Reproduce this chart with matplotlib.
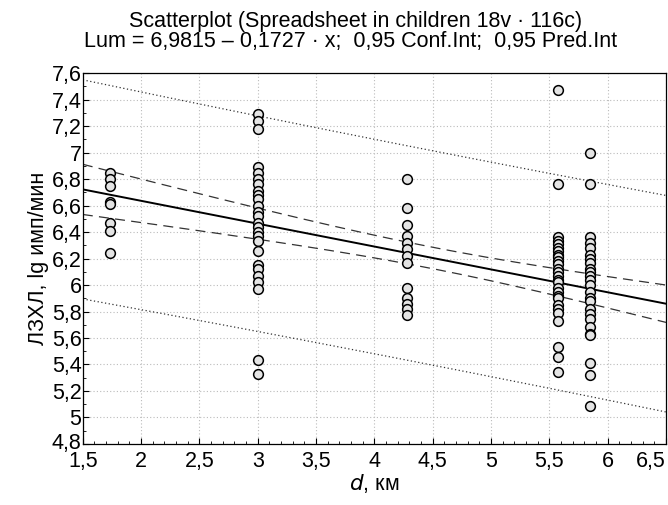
import numpy as np
import matplotlib.pyplot as plt
import matplotlib.transforms as mtransforms
from matplotlib.ticker import MultipleLocator, FuncFormatter

plt.rcParams['font.family'] = ['Liberation Sans', 'DejaVu Sans']

# distance groups (km) and measured values
d_groups = [1.73, 3.0, 4.28, 5.57, 5.85]
lum_173 = [6.85, 6.80, 6.75, 6.63, 6.61, 6.47, 6.41, 6.24]
lum_300 = [7.29, 7.24, 7.18, 6.89, 6.85, 6.80, 6.76, 6.71, 6.68, 6.65, 6.60, 6.55,
           6.52, 6.47, 6.44, 6.40, 6.37, 6.33, 6.26, 6.15, 6.12, 6.07, 6.02, 5.97,
           5.43, 5.33]
lum_428 = [6.80, 6.58, 6.45, 6.37, 6.32, 6.27, 6.22, 6.17, 5.98, 5.90, 5.86, 5.82, 5.77]
lum_557 = [7.47, 6.76, 6.36, 6.33, 6.31, 6.28, 6.26, 6.23, 6.21, 6.18, 6.16, 6.12,
           6.10, 6.07, 6.04, 6.02, 5.98, 5.95, 5.92, 5.90, 5.85, 5.82, 5.79, 5.73,
           5.53, 5.46, 5.34]
lum_585 = [7.00, 6.76, 6.36, 6.32, 6.28, 6.23, 6.20, 6.17, 6.12, 6.10, 6.07, 6.04,
           6.00, 5.95, 5.90, 5.88, 5.82, 5.78, 5.74, 5.68, 5.63, 5.62, 5.41, 5.32, 5.09]
lum_groups = [lum_173, lum_300, lum_428, lum_557, lum_585]

x_ticks = [1.5, 2, 2.5, 3, 3.5, 4, 4.5, 5, 5.5, 6, 6.5]
y_ticks = [4.8, 5, 5.2, 5.4, 5.6, 5.8, 6, 6.2, 6.4, 6.6, 6.8, 7, 7.2, 7.4, 7.6]

# regression from the title
b0, b1 = 6.9815, -0.1727
t_crit = 1.981

x = np.concatenate([np.full(len(v), d) for d, v in zip(d_groups, lum_groups)])
y = np.concatenate([np.array(v) for v in lum_groups])
n = len(x)
xm = x.mean()
sxx = ((x - xm) ** 2).sum()
s = np.sqrt(((y - (b0 + b1 * x)) ** 2).sum() / (n - 2))

xx = np.linspace(1.5, 6.5, 200)
yy = b0 + b1 * xx
se_c = s * np.sqrt(1.0 / n + (xx - xm) ** 2 / sxx)
se_p = s * np.sqrt(1 + 1.0 / n + (xx - xm) ** 2 / sxx)

fs = 15.5
fig = plt.figure(figsize=(6.68, 5.05), dpi=100)
ax = fig.add_axes([0.124, 0.121, 0.873, 0.734])

ax.grid(True, color='#bbbbbb', linestyle=(0, (1, 2)), linewidth=0.8)
ax.set_axisbelow(True)

ax.plot(xx, yy, color='black', lw=1.4, zorder=2)
ax.plot(xx, yy + t_crit * se_c, color='#333333', lw=0.9, ls=(0, (8, 5)), zorder=2)
ax.plot(xx, yy - t_crit * se_c, color='#333333', lw=0.9, ls=(0, (8, 5)), zorder=2)
ax.plot(xx, yy + t_crit * se_p, color='#333333', lw=0.9, ls=(0, (1, 2)), zorder=2)
ax.plot(xx, yy - t_crit * se_p, color='#333333', lw=0.9, ls=(0, (1, 2)), zorder=2)

ax.plot(x, y, 'o', ms=7, mfc='#e4e4e4', mec='black', mew=1.1, zorder=3)

ax.set_xlim(1.5, 6.5)
ax.set_ylim(4.8, 7.6)
ax.set_xticks(x_ticks)
ax.set_yticks(y_ticks)
ax.xaxis.set_minor_locator(MultipleLocator(0.1))
ax.yaxis.set_minor_locator(MultipleLocator(0.1))
fmt = FuncFormatter(lambda v, p: ('%g' % round(v, 2)).replace('.', ','))
ax.xaxis.set_major_formatter(fmt)
ax.yaxis.set_major_formatter(fmt)
ax.tick_params(which='both', direction='in', labelsize=fs, pad=1)
ax.tick_params(axis='x', which='major', pad=5)
ax.tick_params(which='major', length=4)
ax.tick_params(which='minor', length=2)
for sp in ax.spines.values():
    sp.set_linewidth(0.9)

fig.canvas.draw()
for lab in ax.get_xticklabels():
    if lab.get_text() == '6,5':
        lab.set_horizontalalignment('right')
shift_up = mtransforms.ScaledTranslation(0, 3 / 100, fig.dpi_scale_trans)
for lab in ax.get_yticklabels():
    if lab.get_text() == '4,8':
        lab.set_transform(lab.get_transform() + shift_up)

ax.set_xlabel(r'$\it{d}$, км', fontsize=fs, labelpad=0)
ax.set_ylabel('ЛЗХЛ, lg имп/мин', fontsize=fs, labelpad=2)

fig.text(0.532, 0.958, 'Scatterplot (Spreadsheet in children 18v \u00b7 116c)',
         ha='center', va='center', fontsize=fs)
fig.text(0.525, 0.918, 'Lum = 6,9815 \u2013 0,1727 \u00b7 x;  0,95 Conf.Int;  0,95 Pred.Int',
         ha='center', va='center', fontsize=fs)

fig.savefig('out.png', dpi=100)
